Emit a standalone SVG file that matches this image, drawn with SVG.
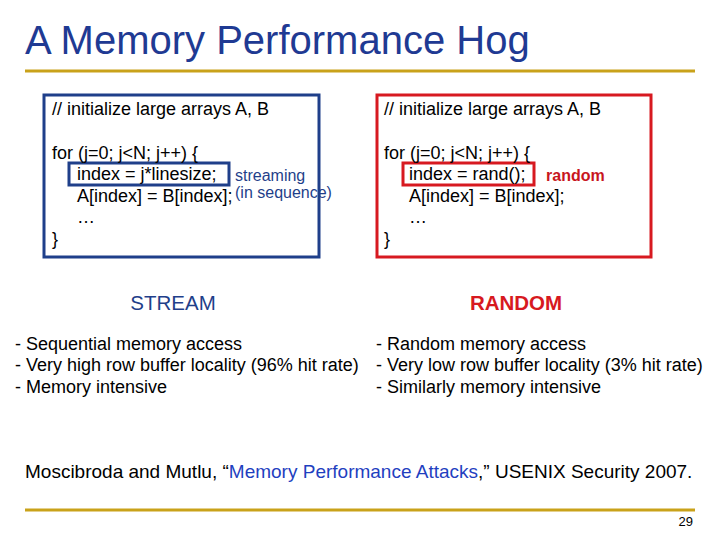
<svg xmlns="http://www.w3.org/2000/svg" width="720" height="540" viewBox="0 0 720 540">
<style>
text{font-family:"Liberation Sans",Arial,sans-serif;}
.c{font-size:18px;fill:#000}
</style>
<rect width="720" height="540" fill="#fff"/>
<text x="25" y="54" font-size="40" fill="#1f3a93">A Memory Performance Hog</text>
<line x1="25" y1="71" x2="695" y2="71" stroke="#c9a21a" stroke-width="3"/>
<line x1="25" y1="510" x2="695" y2="510" stroke="#c9a21a" stroke-width="3"/>
<g id="stream">
<rect x="44" y="95" width="275" height="162" fill="none" stroke="#1f3f8a" stroke-width="3"/>
<rect x="69" y="163" width="160" height="22" fill="none" stroke="#1f3f8a" stroke-width="3"/>
<text class="c" x="52" y="115">// initialize large arrays A, B</text>
<text class="c" x="52" y="159">for (j=0; j&lt;N; j++) {</text>
<text class="c" x="77" y="180">index = j*linesize;</text>
<text class="c" x="77" y="202">A[index] = B[index];</text>
<text class="c" x="77" y="223">…</text>
<text class="c" x="52" y="245">}</text>
<text x="235" y="181" font-size="16" fill="#1f3f8a">streaming</text>
<text x="235" y="198" font-size="16" fill="#1f3f8a">(in sequence)</text>
</g>
<g id="random">
<rect x="377" y="95" width="274" height="162" fill="none" stroke="#d71920" stroke-width="3"/>
<rect x="403" y="163" width="131" height="22" fill="none" stroke="#d71920" stroke-width="3"/>
<text class="c" x="384" y="115">// initialize large arrays A, B</text>
<text class="c" x="384" y="159">for (j=0; j&lt;N; j++) {</text>
<text class="c" x="409" y="180">index = rand();</text>
<text class="c" x="409" y="202">A[index] = B[index];</text>
<text class="c" x="409" y="223">…</text>
<text class="c" x="384" y="245">}</text>
<text x="546" y="181" font-size="16" font-weight="bold" fill="#c8161d">random</text>
</g>
<text x="173" y="310" font-size="20.5" text-anchor="middle" fill="#1f3f8a">STREAM</text>
<text x="516" y="310" font-size="20.5" font-weight="bold" text-anchor="middle" fill="#d71920">RANDOM</text>
<text class="c" x="15" y="350">- Sequential memory access</text>
<text class="c" x="15" y="371">- Very high row buffer locality (96% hit rate)</text>
<text class="c" x="15" y="393">- Memory intensive</text>
<text class="c" x="376" y="350">- Random memory access</text>
<text class="c" x="376" y="371">- Very low row buffer locality (3% hit rate)</text>
<text class="c" x="376" y="393">- Similarly memory intensive</text>
<text x="25" y="478" font-size="19" fill="#000" font-family="'Open Sans',sans-serif">Moscibroda and Mutlu, “<tspan fill="#1f3fbf">Memory Performance Attacks</tspan>,” USENIX Security 2007.</text>
<text x="693" y="526" font-size="13" text-anchor="end" fill="#000">29</text>
</svg>
